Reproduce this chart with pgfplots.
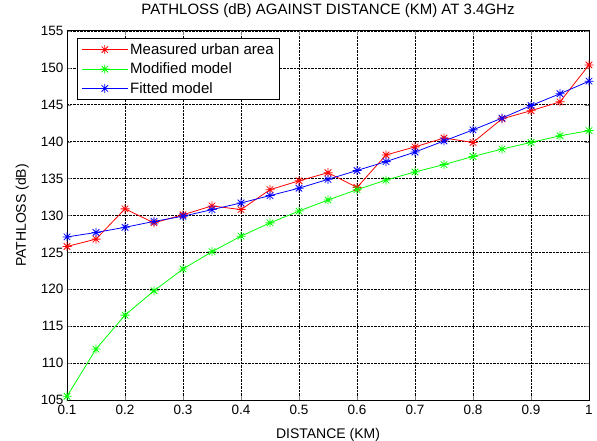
\documentclass[border=0pt]{standalone}
\usepackage{fontspec}
\setmainfont{Liberation Sans}
\usepackage{pgfplots}
\pgfplotsset{compat=1.18}
\pgfdeclareplotmark{mstar}{%
  \pgfpathmoveto{\pgfqpoint{-\pgfplotmarksize}{0pt}}\pgfpathlineto{\pgfqpoint{\pgfplotmarksize}{0pt}}%
  \pgfpathmoveto{\pgfqpoint{0pt}{-\pgfplotmarksize}}\pgfpathlineto{\pgfqpoint{0pt}{\pgfplotmarksize}}%
  \pgfpathmoveto{\pgfqpoint{-0.72\pgfplotmarksize}{-0.72\pgfplotmarksize}}\pgfpathlineto{\pgfqpoint{0.72\pgfplotmarksize}{0.72\pgfplotmarksize}}%
  \pgfpathmoveto{\pgfqpoint{-0.72\pgfplotmarksize}{0.72\pgfplotmarksize}}\pgfpathlineto{\pgfqpoint{0.72\pgfplotmarksize}{-0.72\pgfplotmarksize}}%
  \pgfusepathqstroke}
\begin{document}
\begin{tikzpicture}
\begin{axis}[
  name=ax,
  scale only axis,
  width=522pt, height=369pt,
  xmin=0.1, xmax=1, ymin=105, ymax=155,
  xtick={0.1,0.2,...,1.0},
  xticklabels={0.1,0.2,0.3,0.4,0.5,0.6,0.7,0.8,0.9,1},
  ytick={105,110,...,155},
  /pgf/number format/assume math mode=true,
  tick label style={font=\fontsize{13.5}{15}\selectfont},
  xticklabel style={yshift=-2pt},
  tick align=inside,
  major tick length=4pt,
  grid=major,
  major grid style={black, densely dotted, line width=0.6pt},
  axis line style={black, line width=1pt},
  title={PATHLOSS (dB) AGAINST DISTANCE (KM) AT 3.4GHz},
  title style={font=\fontsize{15}{17}\selectfont, at={(0.5,1)}, anchor=base, yshift=10pt},
  xlabel={DISTANCE (KM)},
  ylabel={PATHLOSS (dB)},
  label style={font=\fontsize{14}{16}\selectfont},
  xlabel style={at={(0.5,0)}, anchor=base, yshift=-38pt},
  ylabel style={at={(0,0.5)}, anchor=base, yshift=41pt},
  legend style={at={(0.019,0.981)}, anchor=north west, draw=black, line width=1pt,
    font=\fontsize{15}{17}\selectfont, inner xsep=4pt, inner ysep=3pt, row sep=3pt,
    cells={anchor=west}},
  legend cell align=left,
  legend image code/.code={\draw[mark repeat=2,mark phase=2,#1] plot coordinates {(0pt,0pt) (23pt,0pt) (46pt,0pt)};},
  every axis plot/.append style={line width=0.8pt, mark size=4.5pt, mark options={solid, line width=0.8pt}},
]
\addplot[red, mark=mstar] coordinates {
(0.10,125.8) (0.15,126.8) (0.20,130.9) (0.25,129.0) (0.30,130.1) (0.35,131.3) (0.40,130.8)
(0.45,133.5) (0.50,134.7) (0.55,135.8) (0.60,133.8) (0.65,138.2) (0.70,139.3) (0.75,140.5)
(0.80,139.9) (0.85,143.1) (0.90,144.2) (0.95,145.4) (1.00,150.4)};
\addlegendentry{Measured urban area}
\addplot[green, mark=mstar] coordinates {
(0.10,105.5) (0.15,111.9) (0.20,116.5) (0.25,119.8) (0.30,122.75) (0.35,125.1) (0.40,127.2)
(0.45,129.0) (0.50,130.6) (0.55,132.1) (0.60,133.5) (0.65,134.8) (0.70,135.9) (0.75,136.9)
(0.80,138.0) (0.85,139.0) (0.90,139.9) (0.95,140.8) (1.00,141.5)};
\addlegendentry{Modified model}
\addplot[blue, mark=mstar] coordinates {
(0.10,127.1) (0.15,127.7) (0.20,128.4) (0.25,129.2) (0.30,129.9) (0.35,130.8) (0.40,131.7)
(0.45,132.7) (0.50,133.7) (0.55,134.9) (0.60,136.1) (0.65,137.3) (0.70,138.6) (0.75,140.1)
(0.80,141.6) (0.85,143.2) (0.90,144.9) (0.95,146.5) (1.00,148.2)};
\addlegendentry{Fitted model}
\end{axis}
\pgfresetboundingbox
\path[use as bounding box] ([xshift=-67pt,yshift=-40pt]ax.south west) rectangle ([xshift=8pt,yshift=31pt]ax.north east);
\end{tikzpicture}
\end{document}
